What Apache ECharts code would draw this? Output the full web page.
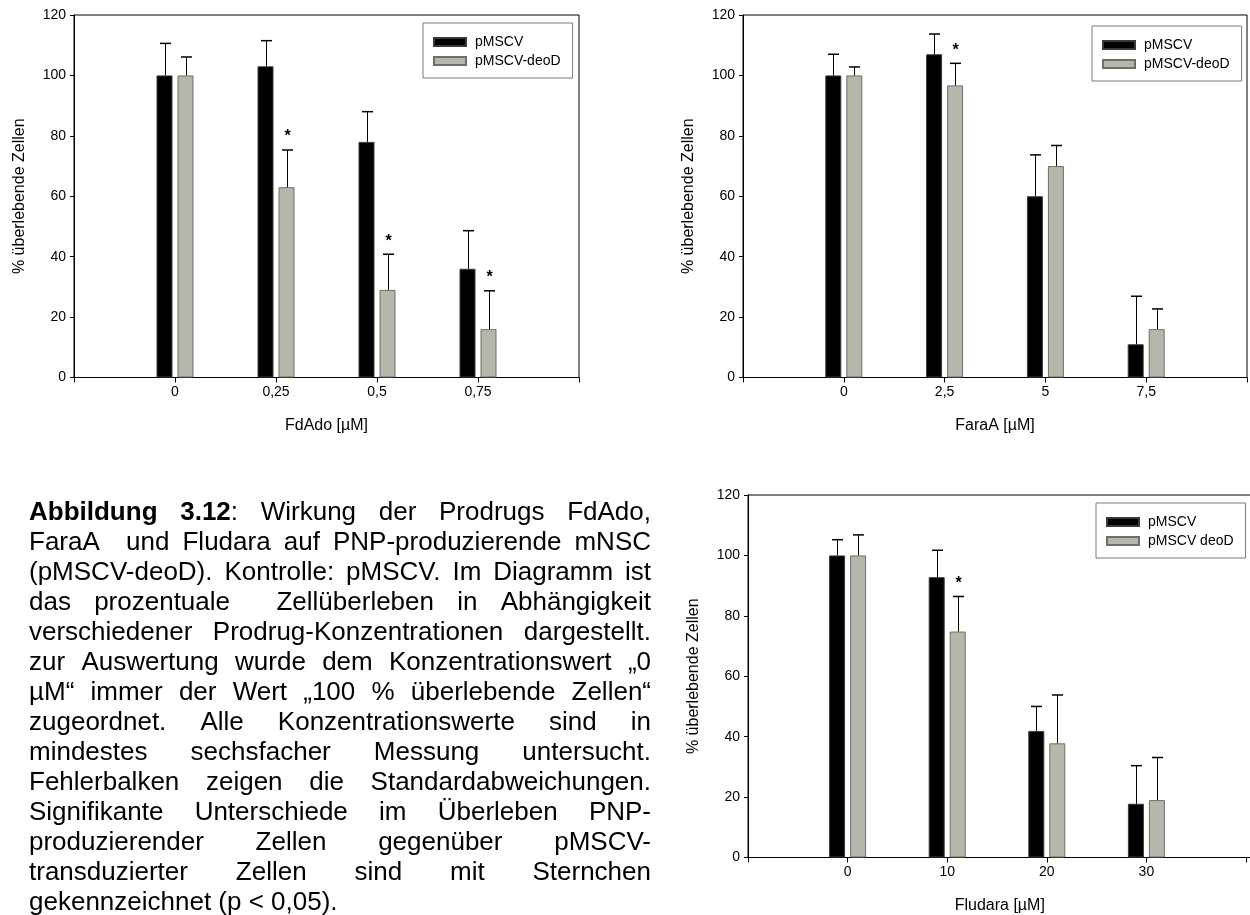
<!DOCTYPE html>
<html>
<head>
<meta charset="utf-8">
<script src="https://cdn.jsdelivr.net/npm/echarts@6/dist/echarts.min.js"></script>
<style>
  html, body { margin: 0; padding: 0; background: #fff; }
  #chart { width: 1250px; height: 915px; }
</style>
</head>
<body>
<div id="chart"></div>
<script>
// ---------------- DATA ----------------
const yTickMin = 0, yTickMax = 120, yTickStep = 20;
const yAxisTitle = '% überlebende Zellen';

// Panel 1: FdAdo
const fdAdoCats = ['0', '0,25', '0,5', '0,75'];
const fdAdoPMSCV = [100, 103, 78, 36];
const fdAdoPMSCVsd = [10.6, 8.5, 10, 12.6];
const fdAdoDeoD = [100, 63, 29, 16];
const fdAdoDeoDsd = [6.1, 12.3, 11.8, 12.7];
const fdAdoSig = [0, 1, 1, 1];

// Panel 2: FaraA
const faraCats = ['0', '2,5', '5', '7,5'];
const faraPMSCV = [100, 107, 60, 11];
const faraPMSCVsd = [7, 6.7, 13.7, 15.9];
const faraDeoD = [100, 96.7, 70, 16];
const faraDeoDsd = [2.8, 7.3, 6.8, 6.7];
const faraSig = [0, 1, 0, 0];

// Panel 3: Fludara
const fludCats = ['0', '10', '20', '30'];
const fludPMSCV = [100, 92.8, 41.9, 17.8];
const fludPMSCVsd = [5.2, 8.9, 8.1, 12.6];
const fludDeoD = [100, 74.8, 37.8, 19];
const fludDeoDsd = [6.8, 11.6, 16, 14.1];
const fludSig = [0, 1, 0, 0];

const captionLines = [
  '**Abbildung 3.12**: Wirkung der Prodrugs FdAdo,',
  'FaraA  und Fludara auf PNP-produzierende mNSC',
  '(pMSCV-deoD). Kontrolle: pMSCV. Im Diagramm ist',
  'das prozentuale  Zellüberleben in Abhängigkeit',
  'verschiedener Prodrug-Konzentrationen dargestellt.',
  'zur Auswertung wurde dem Konzentrationswert \u201E0',
  '\u00B5M\u201C immer der Wert \u201E100 % überlebende Zellen\u201C',
  'zugeordnet. Alle Konzentrationswerte sind in',
  'mindestes sechsfacher Messung untersucht.',
  'Fehlerbalken zeigen die Standardabweichungen.',
  'Signifikante Unterschiede im Überleben PNP-',
  'produzierender Zellen gegenüber pMSCV-',
  'transduzierter Zellen sind mit Sternchen',
  'gekennzeichnet (p < 0,05).'
];

// ---------------- STYLE ----------------
const FONT = '"Liberation Sans", Arial, Helvetica, sans-serif';
const BLACK = '#000000';
const GREY = '#b6b6aa';
const BAR_W = 16;
const BAR_GAP = 5;

const panels = [
  { cats: fdAdoCats, a: fdAdoPMSCV, asd: fdAdoPMSCVsd, b: fdAdoDeoD, bsd: fdAdoDeoDsd, sig: fdAdoSig,
    xName: 'FdAdo [\u00B5M]', names: ['pMSCV', 'pMSCV-deoD'], trail: 1, nameShift: 0,
    grid: { left: 74, top: 15, width: 505, height: 362.5 },
    legend: { left: 423, top: 23 } },
  { cats: faraCats, a: faraPMSCV, asd: faraPMSCVsd, b: faraDeoD, bsd: faraDeoDsd, sig: faraSig,
    xName: 'FaraA [\u00B5M]', names: ['pMSCV', 'pMSCV-deoD'], trail: 1, nameShift: 0,
    grid: { left: 743, top: 15, width: 504, height: 362.5 },
    legend: { left: 1092, top: 26 } },
  { cats: fludCats, a: fludPMSCV, asd: fludPMSCVsd, b: fludDeoD, bsd: fludDeoDsd, sig: fludSig,
    xName: 'Fludara [\u00B5M]', names: ['pMSCV', 'pMSCV deoD'], trail: 2, nameShift: 47,
    grid: { left: 748, top: 495, width: 597.6, height: 362.5 },
    legend: { left: 1096, top: 503 } }
];

const grids = [], xAxes = [], yAxes = [], series = [], legends = [];

function padData(arr, trail) { return ['-'].concat(arr, new Array(trail).fill('-')); }
function padCats(arr, trail) { return [''].concat(arr, new Array(trail).fill('')); }

panels.forEach((p, i) => {
  grids.push(Object.assign({ show: true, borderColor: '#000', borderWidth: 1, containLabel: false,
    outerBoundsMode: 'none' }, p.grid));
  xAxes.push({
    type: 'category', gridIndex: i, data: padCats(p.cats, p.trail), boundaryGap: false,
    axisLine: { lineStyle: { color: '#000', width: 1 } },
    axisTick: { show: true, length: 5, interval: 0, lineStyle: { color: '#000' } },
    axisLabel: { interval: 0, color: '#000', fontFamily: FONT, fontSize: 14, margin: 8 },
    name: p.xName, nameLocation: 'middle', nameGap: 40,
    nameTextStyle: { color: '#000', fontFamily: FONT, fontSize: 16, padding: [0, p.nameShift * 2, 0, 0] }
  });
  yAxes.push({
    type: 'value', gridIndex: i, min: yTickMin, max: yTickMax, interval: yTickStep,
    axisLine: { show: true, lineStyle: { color: '#000', width: 1 } },
    axisTick: { show: true, length: 4, lineStyle: { color: '#000' } },
    splitLine: { show: false },
    axisLabel: { color: '#000', fontFamily: FONT, fontSize: 14, margin: 8 },
    name: yAxisTitle, nameLocation: 'middle', nameGap: 46, nameRotate: 90,
    nameTextStyle: { color: '#000', fontFamily: FONT, fontSize: 16 }
  });
  series.push({
    type: 'bar', name: p.names[0], xAxisIndex: i, yAxisIndex: i, data: padData(p.a, p.trail),
    barWidth: BAR_W, barGap: (BAR_GAP / BAR_W * 100) + '%',
    itemStyle: { color: BLACK, borderColor: '#3a3a3a', borderWidth: 1 },
    emphasis: { disabled: true }, silent: true
  });
  series.push({
    type: 'bar', name: p.names[1], xAxisIndex: i, yAxisIndex: i, data: padData(p.b, p.trail),
    barWidth: BAR_W, barGap: (BAR_GAP / BAR_W * 100) + '%',
    itemStyle: { color: GREY, borderColor: '#6f6f6a', borderWidth: 1 },
    emphasis: { disabled: true }, silent: true
  });
  // error bars (upper only) + significance stars
  [[p.a, p.asd, null, -1], [p.b, p.bsd, p.sig, 1]].forEach(([vals, sds, sig, side]) => {
    const data = vals.map((v, k) => [k + 1, v, sds[k], sig ? sig[k] : 0]);
    series.push({
      type: 'custom', xAxisIndex: i, yAxisIndex: i, silent: true, z: 5,
      data: data,
      renderItem: function (params, api) {
        const x = api.value(0), m = api.value(1), sd = api.value(2), s = api.value(3);
        const off = side * (BAR_W + BAR_GAP) / 2;
        const p0 = api.coord([x, m]);
        const p1 = api.coord([x, m + sd]);
        const cx = Math.round(p0[0] + off) + 0.5;
        const capHalf = 5.5;
        const children = [
          { type: 'line', shape: { x1: cx, y1: p0[1], x2: cx, y2: p1[1] },
            style: { stroke: '#000', lineWidth: 1 } },
          { type: 'line', shape: { x1: cx - capHalf, y1: p1[1], x2: cx + capHalf, y2: p1[1] },
            style: { stroke: '#000', lineWidth: 1.5 } }
        ];
        if (s) {
          children.push({ type: 'text', x: cx, y: p1[1] - 13,
            style: { text: '*', fill: '#000', font: 'bold 16px ' + FONT, align: 'center', verticalAlign: 'middle' } });
        }
        return { type: 'group', children: children };
      }
    });
  });
  legends.push({
    orient: 'vertical', left: p.legend.left, top: p.legend.top,
    data: p.names, icon: 'rect', itemWidth: 32, itemHeight: 8, itemGap: 3,
    backgroundColor: '#fff', borderColor: '#7a7a7a', borderWidth: 1,
    padding: [11, 12, 9, 10], selectedMode: false,
    textStyle: { color: '#000', fontFamily: FONT, fontSize: 14, lineHeight: 16, padding: [0, 0, 0, 4] }
  });
});

// -------- caption (justified) --------
const CAP_LEFT = 29, CAP_RIGHT = 651, CAP_TOP = 513, CAP_STEP = 30, CAP_SIZE = 26;
const measureCtx = document.createElement('canvas').getContext('2d');
function fontStr(bold) { return (bold ? 'bold ' : '') + CAP_SIZE + 'px ' + FONT; }
function measure(t, bold) { measureCtx.font = fontStr(bold); return measureCtx.measureText(t).width; }
const capElems = [];
captionLines.forEach((line, li) => {
  const chars = []; let bold = false;
  for (let k = 0; k < line.length; k++) {
    if (line.startsWith('**', k)) { bold = !bold; k++; continue; }
    chars.push({ c: line[k], b: bold });
  }
  const tokens = []; let cur = null;
  chars.forEach(ch => {
    if (ch.c === ' ') { cur = null; tokens.push({ space: true }); return; }
    if (!cur) { cur = { segs: [] }; tokens.push(cur); }
    const last = cur.segs[cur.segs.length - 1];
    if (last && last.b === ch.b) last.t += ch.c; else cur.segs.push({ t: ch.c, b: ch.b });
  });
  const spaceW = measure(' ', false);
  let natural = 0, nSp = 0;
  tokens.forEach(tk => {
    if (tk.space) { natural += spaceW; nSp++; }
    else tk.segs.forEach(s => natural += measure(s.t, s.b));
  });
  const isLast = li === captionLines.length - 1;
  const extra = (!isLast && nSp > 0) ? (CAP_RIGHT - CAP_LEFT - natural) / nSp : 0;
  let x = CAP_LEFT;
  const y = CAP_TOP + li * CAP_STEP;
  tokens.forEach(tk => {
    if (tk.space) { x += spaceW + extra; return; }
    tk.segs.forEach(s => {
      capElems.push({ type: 'text', x: x, y: y, silent: true,
        style: { text: s.t, fill: '#000', font: fontStr(s.b), verticalAlign: 'middle', align: 'left' } });
      x += measure(s.t, s.b);
    });
  });
});

const chart = echarts.init(document.getElementById('chart'), null, { renderer: 'canvas' });
chart.setOption({
  backgroundColor: '#ffffff',
  animation: false,
  grid: grids,
  xAxis: xAxes,
  yAxis: yAxes,
  legend: legends,
  series: series,
  graphic: { elements: capElems }
});
</script>
</body>
</html>
